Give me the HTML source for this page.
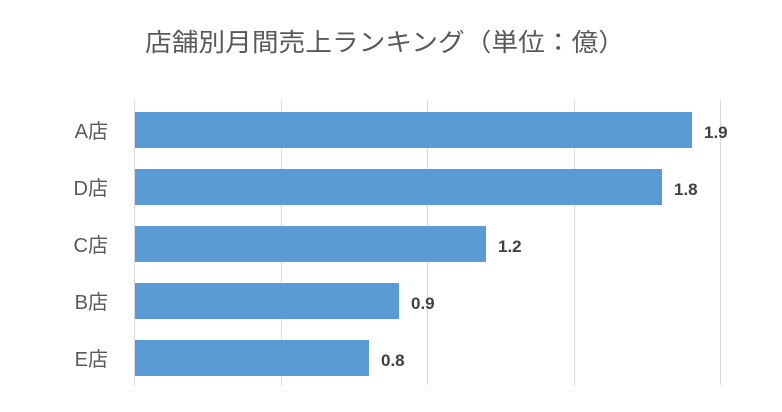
<!DOCTYPE html>
<html><head><meta charset="utf-8"><style>
html,body{margin:0;padding:0;background:#fff;}
svg{display:block;}
</style></head><body>
<svg width="782" height="412" xmlns="http://www.w3.org/2000/svg" font-family="'Liberation Sans','Noto Sans CJK JP',sans-serif">
<rect width="782" height="412" fill="#fff"/>
<text x="145" y="51" font-size="25" fill="#595959" textLength="480" lengthAdjust="spacingAndGlyphs">店舗別月間売上ランキング（単位：億）</text>
<g stroke="#d9d9d9" stroke-width="1">
<line x1="134.5" y1="100" x2="134.5" y2="385"/>
<line x1="281.5" y1="100" x2="281.5" y2="385"/>
<line x1="427.5" y1="100" x2="427.5" y2="385"/>
<line x1="574.5" y1="100" x2="574.5" y2="385"/>
<line x1="720.5" y1="100" x2="720.5" y2="385"/>
</g>
<g fill="#5b9bd5">
<rect x="135" y="112" width="557" height="36"/>
<rect x="135" y="169" width="527" height="36"/>
<rect x="135" y="226" width="351" height="36"/>
<rect x="135" y="283" width="264" height="36"/>
<rect x="135" y="340" width="234" height="36"/>
</g>
<g font-size="20" fill="#595959" text-anchor="end">
<text x="108" y="138">A店</text>
<text x="108" y="195">D店</text>
<text x="108" y="252">C店</text>
<text x="108" y="309">B店</text>
<text x="108" y="366">E店</text>
</g>
<g font-size="17" font-weight="bold" fill="#404040">
<text x="704" y="138">1.9</text>
<text x="674" y="195">1.8</text>
<text x="498" y="252">1.2</text>
<text x="411" y="309">0.9</text>
<text x="381" y="366">0.8</text>
</g>
</svg>
</body></html>
